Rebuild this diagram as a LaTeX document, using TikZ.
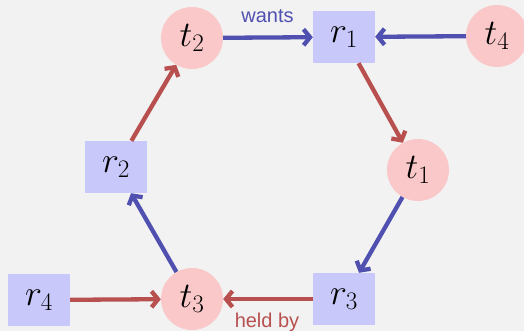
\RequirePackage{fix-cm}
\documentclass[tikz,border=0pt]{standalone}
\usepackage{fontspec}
\setsansfont{Liberation Sans}
\usetikzlibrary{arrows.meta}
\definecolor{bg}{RGB}{242,242,242}
\definecolor{tfill}{RGB}{250,200,200}
\definecolor{rfill}{RGB}{200,200,250}
\definecolor{wantc}{RGB}{80,80,176}
\definecolor{heldc}{RGB}{184,80,80}
\begin{document}
\begin{tikzpicture}[x=1pt,y=-1pt,
  thread/.style={circle,fill=tfill,minimum size=62pt,inner sep=0pt,font=\fontsize{36}{40}\selectfont},
  res/.style={rectangle,fill=rfill,minimum width=62pt,minimum height=52pt,inner sep=0pt,font=\fontsize{36}{40}\selectfont},
  wantarrow/.style={draw=wantc,line width=4.3pt,-{Straight Barb[length=6.5pt,width=16pt]}},
  heldarrow/.style={draw=heldc,line width=4.3pt,-{Straight Barb[length=6.5pt,width=16pt]}},
  lbl/.style={font=\sffamily\fontsize{20}{22}\selectfont,inner sep=0pt}]
\fill[bg] (0,0) rectangle (524,331);
\useasboundingbox (0,0) rectangle (524,331);
\node[thread] (t2) at (192,38) {$t_2$};
\node[res] (r1) at (344,37) {$r_1$};
\node[thread] (t4) at (497,36) {$t_4$};
\node[thread] (t1) at (418,170) {$t_1$};
\node[res] (r3) at (344,299) {$r_3$};
\node[thread] (t3) at (192,299) {$t_3$};
\node[res] (r2) at (116,167) {$r_2$};
\node[res] (r4) at (39,300) {$r_4$};
\draw[wantarrow] (t2) -- (r1);
\draw[wantarrow] (t4) -- (r1);
\draw[heldarrow] (r1) -- (t1);
\draw[wantarrow] (t1) -- (r3);
\draw[heldarrow] (r3) -- (t3);
\draw[heldarrow] (r4) -- (t3);
\draw[wantarrow] (t3) -- (r2);
\draw[heldarrow] (r2) -- (t2);
\node[lbl,text=wantc] (wl) at (267.5,16.5) {wants};
\node[lbl,text=heldc] (hl) at (267,322) {held by};
\end{tikzpicture}
\end{document}
